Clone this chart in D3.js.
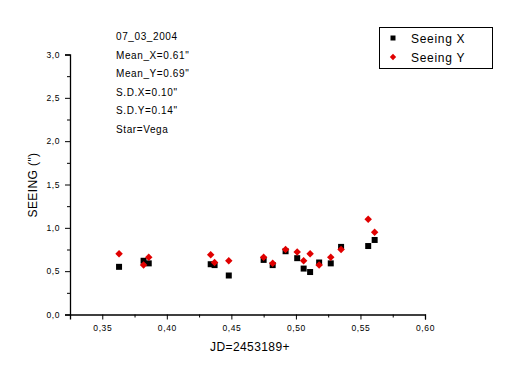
<!DOCTYPE html>
<html>
<head>
<meta charset="utf-8">
<script src="https://cdn.jsdelivr.net/npm/d3@7"></script>
<style>
  body { margin: 0; background: #fff; }
  text { font-family: "Liberation Sans", Arial, sans-serif; fill: #000; }
</style>
</head>
<body>
<div id="chart"></div>
<script>
// JD offsets (x) and seeing values in arcsec
var jdX = [0.363, 0.382, 0.386, 0.434, 0.437, 0.448, 0.475, 0.482, 0.492, 0.501, 0.506, 0.511, 0.518, 0.527, 0.535, 0.556, 0.561];
var seeingX = [0.55, 0.62, 0.59, 0.58, 0.57, 0.45, 0.63, 0.57, 0.73, 0.65, 0.53, 0.49, 0.60, 0.59, 0.78, 0.79, 0.86];
var jdY = [0.363, 0.382, 0.386, 0.434, 0.437, 0.448, 0.475, 0.482, 0.492, 0.501, 0.506, 0.511, 0.518, 0.527, 0.535, 0.556, 0.561];
var seeingY = [0.70, 0.57, 0.66, 0.69, 0.60, 0.62, 0.66, 0.59, 0.75, 0.72, 0.62, 0.70, 0.57, 0.66, 0.75, 1.10, 0.95];

var xTicks = [0.35, 0.40, 0.45, 0.50, 0.55, 0.60];
var xMinor = [0.375, 0.425, 0.475, 0.525, 0.575];
var yTicks = [0, 0.5, 1.0, 1.5, 2.0, 2.5, 3.0];
var yMinor = [0.25, 0.75, 1.25, 1.75, 2.25, 2.75];

var infoLines = ["07_03_2004", "Mean_X=0.61\"", "Mean_Y=0.69\"", "S.D.X=0.10\"", "S.D.Y=0.14\"", "Star=Vega"];
var legendItems = [{name: "Seeing X", color: "#000", shape: "square"},
                   {name: "Seeing Y", color: "#e00000", shape: "diamond"}];

var W = 513, H = 382;
var x = d3.scaleLinear().domain([0.325, 0.60]).range([70, 425]);
var y = d3.scaleLinear().domain([0, 3]).range([314.5, 54.5]);
var comma = d => d3.format(".2f")(d).replace(".", ",");
var commaY = d => d3.format(".1f")(d).replace(".", ",");

var svg = d3.select("#chart").append("svg")
  .attr("width", W).attr("height", H);

// axes
var xAxis = svg.append("g").attr("transform", "translate(0,314.5)");
xAxis.call(d3.axisBottom(x).tickValues(xTicks).tickFormat(comma).tickSize(5).tickPadding(5));
xAxis.append("g").call(d3.axisBottom(x).tickValues(xMinor).tickFormat("").tickSize(3))
  .select(".domain").remove();

var yAxis = svg.append("g").attr("transform", "translate(70,0)");
yAxis.call(d3.axisLeft(y).tickValues(yTicks).tickFormat(commaY).tickSize(5).tickPadding(5));
yAxis.append("g").call(d3.axisLeft(y).tickValues(yMinor).tickFormat("").tickSize(3))
  .select(".domain").remove();

svg.selectAll(".domain").attr("stroke", "#000").attr("stroke-width", 1.3);
svg.selectAll(".tick line").attr("stroke", "#000");
svg.selectAll(".tick text")
  .style("font-family", "'Liberation Sans', Arial, sans-serif")
  .style("font-size", "8.5px").style("letter-spacing", "0.6px").attr("fill", "#000");

// axis titles
svg.append("text").attr("x", 250).attr("y", 351)
  .attr("text-anchor", "middle").style("font-size", "12px").style("letter-spacing", "0.4px")
  .text("JD=2453189+");
svg.append("text").attr("transform", "translate(37,185) rotate(-90)")
  .attr("text-anchor", "middle").style("font-size", "12px").style("letter-spacing", "0.4px")
  .text("SEEING (\")");

// info text
svg.append("g").selectAll("text").data(infoLines).join("text")
  .attr("x", 116).attr("y", (d, i) => 40 + i * 18.6)
  .style("font-size", "10px").style("letter-spacing", "0.6px")
  .text(d => d);

// points: squares and 45deg-rotated squares
var sq = d3.symbol().type(d3.symbolSquare).size(36);
var dm = d3.symbol().type(d3.symbolSquare).size(28);

svg.append("g").selectAll("path").data(seeingX).join("path")
  .attr("d", sq)
  .attr("transform", (d, i) => `translate(${x(jdX[i])},${y(d)})`)
  .attr("fill", "#000");

svg.append("g").selectAll("path").data(seeingY).join("path")
  .attr("d", dm)
  .attr("transform", (d, i) => `translate(${x(jdY[i])},${y(d)}) rotate(45)`)
  .attr("fill", "#e00000");

// legend
var lg = svg.append("g");
lg.append("rect").attr("x", 379.5).attr("y", 27.5).attr("width", 113).attr("height", 41)
  .attr("fill", "#fff").attr("stroke", "#000").attr("stroke-width", 1);
legendItems.forEach(function(it, i) {
  var cy = 38 + i * 19;
  lg.append("path").attr("d", it.shape == "square" ? d3.symbol().type(d3.symbolSquare).size(25) : d3.symbol().type(d3.symbolSquare).size(20))
    .attr("transform", `translate(393,${cy})` + (it.shape == "square" ? "" : " rotate(45)"))
    .attr("fill", it.color);
  lg.append("text").attr("x", 411).attr("y", cy + 4.5)
    .style("font-size", "12px").style("letter-spacing", "0.7px").text(it.name);
});
</script>
</body>
</html>
